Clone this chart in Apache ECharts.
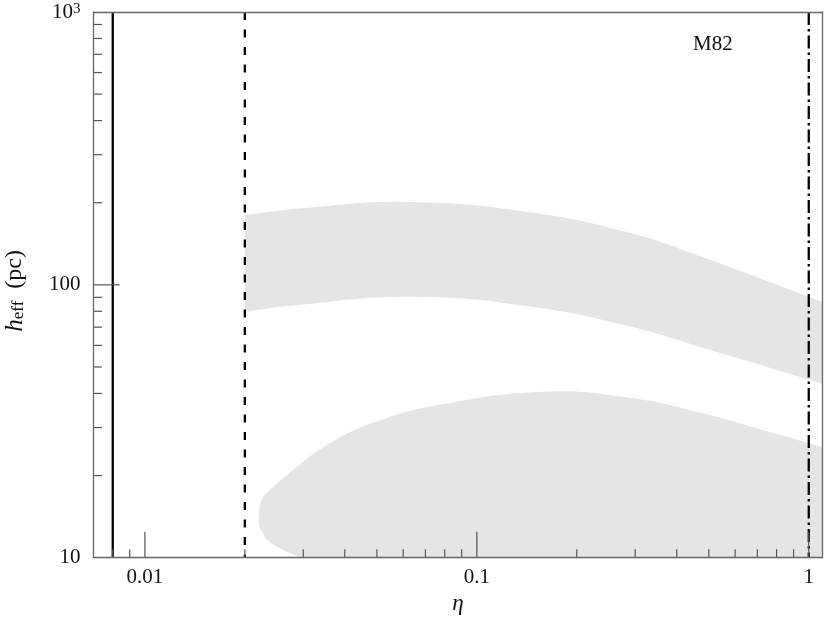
<!DOCTYPE html>
<html><head><meta charset="utf-8">
<script src="https://cdn.jsdelivr.net/npm/echarts@6/dist/echarts.min.js"></script>
<style>html,body{margin:0;padding:0;background:#fff}#c{width:830px;height:623px}</style>
</head><body><div id="c"></div>
<script>
// ---- axis ranges & ticks ----
const xRange = [0.007, 1.1];
const yRange = [10, 1000];
const xLabelValues = [0.01, 0.1, 1];
const xLabelTexts = ['0.01', '0.1', '1'];
const yLabelValues = [10, 100, 1000];
const yLabelTexts = ['10', '100', '{b|10}{s|3}'];
const xMajorTicks = [0.01, 0.1, 1];
const xMinorTicks = [0.008, 0.009, 0.02, 0.03, 0.04, 0.05, 0.06, 0.07, 0.08, 0.09,
                     0.2, 0.3, 0.4, 0.5, 0.6, 0.7, 0.8, 0.9];
const yMajorTicks = [100];
const yMinorTicks = [20, 30, 40, 50, 60, 70, 80, 90, 200, 300, 400, 500, 600, 700, 800, 900];

// ---- vertical reference lines (eta values): solid, dashed, dash-dot ----
const refLineEta = [0.008, 0.02, 1.0];

// ---- upper band: eta, upper edge, lower edge (h_eff in pc) ----
const upperEta =    [0.02,  0.0293, 0.0628, 0.1443, 0.2889, 0.503, 1.0,  1.25];
const upperTop =    [180.5, 190.6,  201.4,  184.6,  155.1,  123.5, 90.4, 81.6];
const upperBottom = [79.8,  84.5,   90.4,   83.3,   70.4,   57.8,  44.9, 41.2];

// ---- lower region: upper edge over eta, and its lower-left edge ----
const lowerTopEta = [0.0221, 0.0225, 0.02331, 0.02733, 0.03436, 0.0486, 0.0774, 0.1602, 0.2889, 0.46,  0.727, 1.0,  1.25];
const lowerTop =    [15.0,   16.3,   17.3,    20.5,    25.3,    31.2,   36.35,  40.6,   38.55,  34.25, 29.4,  26.3, 24.1];
const lowerEdgeEta = [0.0221, 0.0225, 0.02331, 0.02604, 0.0293, 0.03436];
const lowerEdge =    [13.0,   12.56,  11.64,   10.7,    10.08,  9.3];

const FONT = 'Liberation Serif';
const FILL = '#e5e5e5';
function findLabel(v, vals, texts) {
  for (let i = 0; i < vals.length; i++) {
    if (Math.abs(v / vals[i] - 1) < 1e-6) return texts[i];
  }
  return '';
}
const zip = (xs, ys) => xs.map((x, i) => [x, ys[i]]);
const below = yRange[0] / 2;   // anywhere under the x axis (clipped)

// each region = list of smooth boundary pieces, joined by straight edges
const regions = [
  [zip(upperEta, upperTop), zip(upperEta, upperBottom).reverse()],
  [zip(lowerEdgeEta, lowerEdge).reverse().concat(zip(lowerTopEta, lowerTop)),
   [[lowerTopEta[lowerTopEta.length - 1], below]],
   [[lowerEdgeEta[lowerEdgeEta.length - 1], below]]]
];

const tickData = [];
xMinorTicks.forEach(v => tickData.push([v, yRange[0], 0, 0]));
xMajorTicks.forEach(v => tickData.push([v, yRange[0], 0, 1]));
yMinorTicks.forEach(v => tickData.push([xRange[0], v, 1, 0]));
yMajorTicks.forEach(v => tickData.push([xRange[0], v, 1, 1]));

const refLineStyles = [
  {stroke: '#000', lineWidth: 2.3, lineDash: null},
  {stroke: '#000', lineWidth: 2.3, lineDash: [8, 9.5]},
  {stroke: '#000', lineWidth: 2.3, lineDash: [13, 4, 2.5, 4]}
];

const chart = echarts.init(document.getElementById('c'), null, {renderer: 'canvas'});
const axisLineStyle = {color: '#666', width: 1.3};
chart.setOption({
  animation: false,
  backgroundColor: '#fff',
  grid: {left: 93.5, right: 7.5, top: 12, bottom: 65.3, containLabel: false, outerBoundsMode: 'none'},
  xAxis: [{
    type: 'log', logBase: 10, min: xRange[0], max: xRange[1], z: 10,
    axisLine: {show: true, lineStyle: axisLineStyle},
    axisTick: {show: false}, splitLine: {show: false}, minorTick: {show: false},
    axisLabel: {
      showMinLabel: false, showMaxLabel: false, margin: 9,
      fontFamily: FONT, fontSize: 21, color: '#111',
      formatter: v => findLabel(v, xLabelValues, xLabelTexts)
    },
    name: 'η', nameLocation: 'middle', nameGap: 28,
    nameTextStyle: {fontFamily: FONT, fontSize: 23, fontStyle: 'italic', color: '#111'}
  }, {
    type: 'log', logBase: 10, min: xRange[0], max: xRange[1], position: 'top', z: 10,
    axisLine: {show: true, onZero: false, lineStyle: axisLineStyle},
    axisTick: {show: false}, axisLabel: {show: false}, splitLine: {show: false}
  }],
  yAxis: [{
    type: 'log', logBase: 10, min: yRange[0], max: yRange[1], z: 10,
    axisLine: {show: true, lineStyle: axisLineStyle},
    axisTick: {show: false}, splitLine: {show: false}, minorTick: {show: false},
    axisLabel: {
      margin: 13, fontFamily: FONT, fontSize: 21, color: '#111',
      formatter: v => findLabel(v, yLabelValues, yLabelTexts),
      rich: {
        b: {fontFamily: FONT, fontSize: 21, color: '#111'},
        s: {fontFamily: FONT, fontSize: 15, color: '#111', verticalAlign: 'top', padding: [0, 0, 6, 0]}
      }
    },
    name: '{i|h}{sub|eff}{n|  (pc)}', nameLocation: 'middle', nameGap: 66, nameRotate: 90,
    nameTextStyle: {
      padding: [0, 12, 0, 0],
      rich: {
        i: {fontFamily: FONT, fontSize: 25, fontStyle: 'italic', color: '#111'},
        sub: {fontFamily: FONT, fontSize: 17, color: '#111', verticalAlign: 'bottom', padding: [8, 0, 0, 0]},
        n: {fontFamily: FONT, fontSize: 24, color: '#111'}
      }
    }
  }, {
    type: 'log', logBase: 10, min: yRange[0], max: yRange[1], position: 'right', z: 10,
    axisLine: {show: true, onZero: false, lineStyle: axisLineStyle},
    axisTick: {show: false}, axisLabel: {show: false}, splitLine: {show: false}
  }],
  graphic: [{
    type: 'text', left: 693, top: 34, z: 20,
    style: {text: 'M82', font: '21px "Liberation Serif"', fill: '#111'}
  }],
  series: [{
      type: 'custom', name: 'regions', z: 1, clip: true,
      data: regions.map((r, i) => [0.1, 100, i]), encode: {x: 0, y: 1},
      renderItem: function (params, api) {
        const pieces = regions[api.value(2)];
        const pts = [];
        pieces.forEach(piece => {
          piece.forEach((p, j) => {
            const c = api.coord(p);
            pts.push(c);
            // repeat the ends of each piece so that joins stay sharp
            if (j === 0 || j === piece.length - 1) pts.push(c.slice());
          });
        });
        return {type: 'polygon', shape: {points: pts, smooth: 0.45},
                style: {fill: FILL, stroke: null}};
      }
    }, {
      type: 'custom', name: 'refLines', z: 5, clip: true,
      data: refLineEta.map((x, i) => [x, yRange[0], i]), encode: {x: 0, y: 1},
      renderItem: function (params, api) {
        const cs = params.coordSys;
        const p = api.coord([api.value(0), api.value(1)]);
        const st = refLineStyles[api.value(2)];
        return {type: 'line', shape: {x1: p[0], y1: cs.y, x2: p[0], y2: cs.y + cs.height},
                style: Object.assign({fill: null}, st)};
      }
    }, {
      type: 'custom', name: 'ticks', z: 6, clip: false,
      data: tickData, encode: {x: 0, y: 1},
      renderItem: function (params, api) {
        const cs = params.coordSys;
        const isY = api.value(2) === 1;
        const len = api.value(3) === 1 ? 26 : 8.5;
        const p = api.coord([api.value(0), api.value(1)]);
        const shape = isY
          ? {x1: cs.x, y1: p[1], x2: cs.x + len, y2: p[1]}
          : {x1: p[0], y1: cs.y + cs.height, x2: p[0], y2: cs.y + cs.height - len};
        return {type: 'line', shape: shape, style: {stroke: '#555', lineWidth: 1.2}};
      }
    }
  ]
});
</script>
</body></html>
